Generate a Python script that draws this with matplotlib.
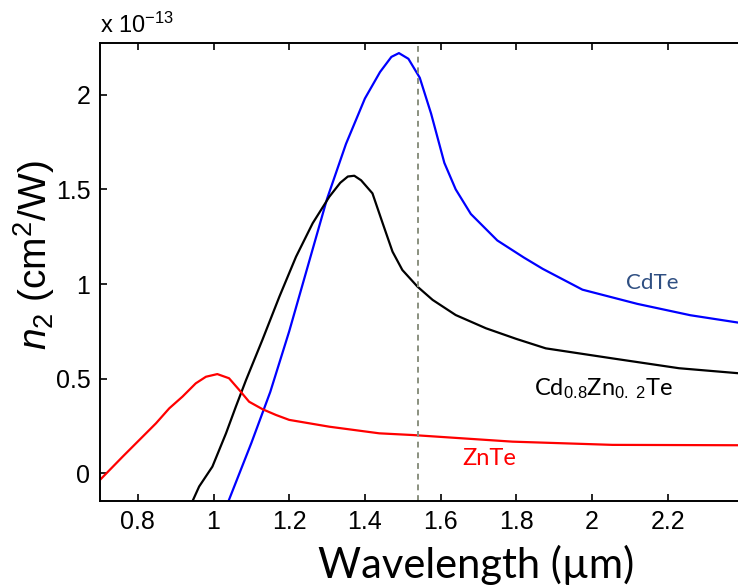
import matplotlib
matplotlib.use("Agg")
import matplotlib.pyplot as plt

plt.rcParams['font.family'] = ['Liberation Sans', 'DejaVu Sans']
plt.rcParams['mathtext.fontset'] = 'custom'
plt.rcParams['mathtext.rm'] = 'Liberation Sans'
plt.rcParams['mathtext.it'] = 'Liberation Sans:italic'

# Nonlinear refractive index n2, in units of 1e-13 cm^2/W
cdte_wl = [1.04, 1.10, 1.15, 1.20, 1.25, 1.30, 1.35, 1.40, 1.44, 1.47, 1.49, 1.515,
           1.545, 1.575, 1.61, 1.64, 1.68, 1.75, 1.82, 1.87, 1.975, 2.12, 2.26, 2.39]
cdte_n2 = [-0.145, 0.16, 0.43, 0.75, 1.10, 1.45, 1.74, 1.98, 2.12, 2.20, 2.22, 2.19,
           2.09, 1.90, 1.64, 1.50, 1.37, 1.23, 1.14, 1.08, 0.97, 0.895, 0.835, 0.795]

czt_wl = [0.945, 0.962, 0.997, 1.033, 1.059, 1.086, 1.129, 1.174, 1.218, 1.262, 1.306,
          1.335, 1.355, 1.372, 1.39, 1.42, 1.447, 1.473, 1.499, 1.539, 1.579, 1.64, 1.72,
          1.80, 1.878, 2.054, 2.23, 2.39]
czt_n2 = [-0.145, -0.07, 0.035, 0.211, 0.352, 0.493, 0.704, 0.933, 1.144, 1.321, 1.461,
          1.535, 1.568, 1.572, 1.548, 1.479, 1.321, 1.171, 1.074, 0.986, 0.916, 0.836,
          0.766, 0.71, 0.66, 0.607, 0.555, 0.528]

znte_wl = [0.70, 0.76, 0.804, 0.848, 0.883, 0.918, 0.953, 0.98, 1.01, 1.041, 1.068,
           1.094, 1.13, 1.165, 1.20, 1.306, 1.438, 1.526, 1.79, 2.054, 2.39]
znte_n2 = [-0.035, 0.088, 0.176, 0.264, 0.343, 0.405, 0.475, 0.51, 0.524, 0.502, 0.44,
           0.378, 0.338, 0.308, 0.282, 0.246, 0.211, 0.202, 0.167, 0.15, 0.148]

telecom_wl = 1.54

x_ticks = [0.8, 1.0, 1.2, 1.4, 1.6, 1.8, 2.0, 2.2]
x_tick_labels = ['0.8', '1', '1.2', '1.4', '1.6', '1.8', '2', '2.2']
y_ticks = [0, 0.5, 1, 1.5, 2]
y_tick_labels = ['0', '0.5', '1', '1.5', '2']

fig = plt.figure(figsize=(7.38, 5.88), dpi=100)
ax = fig.add_axes([100 / 738, 1 - 500.7 / 588, 1 - 100 / 738, (500.7 - 42.7) / 588])

ax.plot(cdte_wl, cdte_n2, color='#0000ff', lw=1.6)
ax.plot(czt_wl, czt_n2, color='black', lw=1.6)
ax.plot(znte_wl, znte_n2, color='#ff0000', lw=1.6)
ax.axvline(telecom_wl, color='#8a917f', lw=1.4, ls=(0, (3, 2.5)))

ax.set_xlim(0.7, 2.386)
ax.set_ylim(-0.145, 2.275)

ax.set_xticks(x_ticks)
ax.set_xticklabels(x_tick_labels)
ax.set_yticks(y_ticks)
ax.set_yticklabels(y_tick_labels)
ax.tick_params(direction='in', length=5, width=1.2, labelsize=18, top=True,
               right=False, pad=7, colors='black')
for side in ['left', 'bottom', 'top']:
    ax.spines[side].set_linewidth(1.4)
ax.spines['right'].set_visible(False)

# Axis titles
fig.text(476 / 738, 1 - 565 / 588, 'Wavelength (\u00b5m)', family=['Lato', 'DejaVu Sans'],
         fontsize=30, ha='center', va='center')
fig.text(34 / 738, 1 - 255 / 588, '$n_2$ (cm$^2$/W)', fontsize=28, rotation=90,
         ha='center', va='center')

fig.text(100 / 738, 1 - 25 / 588, 'x 10$^{-13}$', fontsize=17, ha='left', va='center')

lab_font = ['Lato', 'DejaVu Sans']
ax.text(2.16, 1.005, 'CdTe', color='#2f4f82', fontsize=16, family=lab_font,
        ha='center', va='center')
ax.text(2.03, 0.45, 'Cd$_{0.8}$Zn$_{0.\\ 2}$Te', color='black', fontsize=17,
        family=lab_font, ha='center', va='center')
ax.text(1.73, 0.08, 'ZnTe', color='#ff0000', fontsize=17, family=lab_font,
        ha='center', va='center')

fig.savefig('out.png', dpi=100)
